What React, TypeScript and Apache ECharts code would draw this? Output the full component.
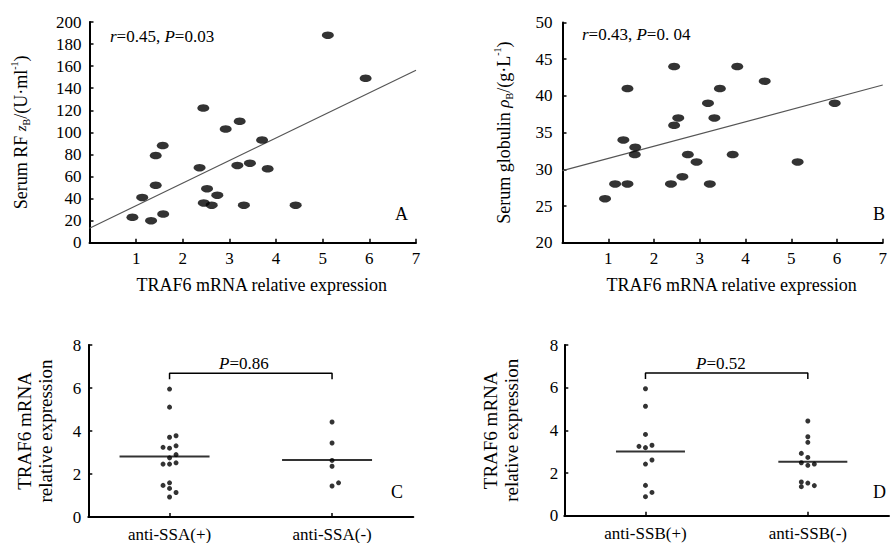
import React, { useEffect, useRef } from "react";
import * as echarts from "echarts";

const FONT = '"Liberation Serif", "Times New Roman", serif';

// ---- Panel A / B data (TRAF6 mRNA relative expression vs serum values) ----
const traf6A = [0.92, 1.32, 1.58, 1.13, 1.42, 1.42, 1.57, 2.44, 2.36, 2.52, 2.45, 2.62, 2.74, 2.92, 3.22, 3.17, 3.44, 3.31, 3.7, 3.82, 4.42, 5.11, 5.92];
const serumRF = [23, 20, 26, 41, 52, 79, 88, 122, 68, 49, 36, 34, 43, 103, 110, 70, 72, 34, 93, 67, 34, 188, 149];
const traf6B = [0.93, 1.15, 1.42, 1.33, 1.42, 1.59, 1.58, 2.37, 2.44, 2.44, 2.53, 2.62, 2.74, 2.93, 3.18, 3.22, 3.32, 3.44, 3.72, 3.82, 4.42, 5.14, 5.95];
const globulin = [26, 28, 28, 34, 41, 33, 32, 28, 44, 36, 37, 29, 32, 31, 39, 28, 37, 41, 32, 44, 42, 31, 39];

const xTickLabels = ["", "1", "2", "3", "4", "5", "6", "7"];
const statA = "{i|r}=0.45, {i|P}=0.03";
const statB = "{i|r}=0.43, {i|P}=0. 04";

// ---- Panel C / D data ----
const ssaCats = ["anti-SSA(+)", "anti-SSA(-)"];
const ssaPos = [5.95, 5.11, 3.71, 3.78, 3.24, 3.2, 3.31, 2.75, 2.9, 2.46, 2.46, 2.52, 1.47, 1.59, 1.33, 1.14, 0.93];
const ssaNeg = [4.42, 3.44, 2.63, 2.36, 1.44, 1.59];
const ssbCats = ["anti-SSB(+)", "anti-SSB(-)"];
const ssbPos = [5.95, 5.13, 3.81, 3.25, 3.19, 3.3, 2.42, 2.61, 1.42, 0.89, 1.09];
const ssbNeg = [4.44, 3.7, 3.44, 2.92, 2.73, 2.48, 2.36, 2.42, 1.58, 1.53, 1.36, 1.41];
const pSSA = "{i|P}=0.86";
const pSSB = "{i|P}=0.52";
const bracketLow = 6.41;
const bracketHigh = 6.69;

// layout: beeswarm column of each dot (-1 left, 0 centre, 1 right)
const ssaPosCol = [0, 0, 0, 1, -1, 0, 1, 0, 1, -1, 0, 1, -1, 0, 0, 1, 0];
const ssaNegCol = [0, 0, 0, 0, 0, 1];
const ssbPosCol = [0, 0, 0, -1, 0, 1, 0, 1, 0, 0, 1];
const ssbNegCol = [0, 0, 0, -1, 0, -1, 0, 1, -1, 0, -1, 1];
const COL_STEP = 6.5;

function fit(xs: number[], ys: number[]) {
  const n = xs.length;
  const mx = xs.reduce((a, b) => a + b, 0) / n;
  const my = ys.reduce((a, b) => a + b, 0) / n;
  let sxy = 0, sxx = 0;
  for (let i = 0; i < n; i++) {
    sxy += (xs[i] - mx) * (ys[i] - my);
    sxx += (xs[i] - mx) * (xs[i] - mx);
  }
  const slope = sxy / sxx;
  return { slope, intercept: my - slope * mx };
}
const mean = (a: number[]) => a.reduce((s, v) => s + v, 0) / a.length;

const txt = { fontFamily: FONT, color: "#000", fontWeight: "normal" as const };
const richAxis = {
  i: { fontFamily: FONT, fontStyle: "italic", fontSize: 17, color: "#000" },
  isub: { fontFamily: FONT, fontStyle: "italic", fontSize: 15, color: "#000" },
  sub: { fontFamily: FONT, fontSize: 10, verticalAlign: "bottom", color: "#000", lineHeight: 22 },
  sup: { fontFamily: FONT, fontSize: 10, verticalAlign: "top", color: "#000", lineHeight: 22 },
};
const richGraphic = {
  i: { fontFamily: FONT, fontStyle: "italic", fontWeight: "normal", fontSize: 17, fill: "#000" },
};
const gText = (left: number, top: number, text: string, size: number) => ({
  type: "text",
  left,
  top,
  style: {
    text,
    fontFamily: FONT,
    fontSize: size,
    fontWeight: "normal",
    fill: "#000",
    rich: richGraphic,
  },
});

function valueAxis(gridIndex: number, min: number, max: number, interval: number, extra: any = {}) {
  return {
    type: "value",
    gridIndex,
    min,
    max,
    interval,
    splitLine: { show: false },
    axisLine: { show: true, onZero: false, lineStyle: { color: "#000", width: 2 } },
    axisTick: { show: true, inside: true, length: 4, lineStyle: { color: "#000", width: 1.5 } },
    axisLabel: { ...txt, fontSize: 17, margin: 9 },
    ...extra,
  };
}

function buildOption() {
  const fa = fit(traf6A, serumRF);
  const fb = fit(traf6B, globulin);
  const xName = "TRAF6 mRNA relative expression";
  const xAxisCommon = (gi: number) =>
    valueAxis(gi, 0, 7, 1, {
      axisLabel: { ...txt, fontSize: 17, margin: 7, formatter: (v: number) => xTickLabels[v] ?? "" },
      name: xName,
      nameLocation: "middle",
      nameGap: 33,
      nameTextStyle: { ...txt, fontSize: 18, padding: [0, 0, 0, 18] },
    });
  const catAxis = (gi: number, cats: string[]) => ({
    type: "category",
    gridIndex: gi,
    data: cats,
    boundaryGap: true,
    axisLine: { show: true, lineStyle: { color: "#000", width: 2 } },
    axisTick: { show: true, inside: true, alignWithLabel: true, length: 4, lineStyle: { color: "#000", width: 1.5 } },
    axisLabel: { ...txt, fontSize: 17, margin: 9 },
    splitLine: { show: false },
  });
  const dots = (gi: number, groups: number[][], cols: number[][]) => ({
    type: "scatter",
    xAxisIndex: gi,
    yAxisIndex: gi,
    symbol: "circle",
    symbolSize: 5,
    itemStyle: { color: "#000" },
    data: groups.flatMap((g, ci) =>
      g.map((v, k) => ({ value: [ci, v], symbolOffset: [cols[ci][k] * COL_STEP, 0] }))
    ),
  });
  const meanBars = (gi: number, groups: number[][], w: number, off: number) => ({
    type: "scatter",
    xAxisIndex: gi,
    yAxisIndex: gi,
    symbol: "rect",
    symbolSize: [w, 2],
    symbolOffset: [off, 0],
    itemStyle: { color: "#000" },
    data: groups.map((g, ci) => [ci, mean(g)]),
    z: 1,
  });
  const bracket = (gi: number) => ({
    type: "line",
    xAxisIndex: gi,
    yAxisIndex: gi,
    symbol: "none",
    lineStyle: { color: "#000", width: 1.5 },
    data: [
      [0, bracketLow],
      [0, bracketHigh],
      [1, bracketHigh],
      [1, bracketLow],
    ],
  });
  const yNameC = {
    name: "TRAF6 mRNA\nrelative expression",
    nameLocation: "middle",
    nameTextStyle: { ...txt, fontSize: 19, lineHeight: 21 },
  };

  return {
    animation: false,
    backgroundColor: "#fff",
    textStyle: { fontFamily: FONT },
    grid: [
      { left: 89.5, top: 22, width: 326.5, height: 220.7 },
      { left: 562.5, top: 22.5, width: 326, height: 220.2 },
      { left: 88.3, top: 345, width: 325, height: 172.7 },
      { left: 564.3, top: 345, width: 324.7, height: 170.7 },
    ],
    xAxis: [xAxisCommon(0), xAxisCommon(1), catAxis(2, ssaCats), catAxis(3, ssbCats)],
    yAxis: [
      valueAxis(0, 0, 200, 20, {
        name: "Serum RF {isub|z}{sub|B}/(U·ml{sup|-1})",
        nameLocation: "middle",
        nameGap: 58,
        nameTextStyle: { ...txt, fontSize: 18, rich: richAxis },
        axisLabel: { ...txt, fontSize: 17, margin: 8 },
      }),
      valueAxis(1, 20, 50, 5, {
        name: "Serum globulin {i|ρ}{sub|B}/(g·L{sup|-1})",
        nameLocation: "middle",
        nameGap: 48,
        nameTextStyle: { ...txt, fontSize: 18, rich: richAxis },
        axisLabel: { ...txt, fontSize: 17, margin: 10 },
      }),
      valueAxis(2, 0, 8, 2, { ...yNameC, nameGap: 32, axisLabel: { ...txt, fontSize: 17, margin: 7 } }),
      valueAxis(3, 0, 8, 2, { ...yNameC, nameGap: 42, axisLabel: { ...txt, fontSize: 17, margin: 6 } }),
    ],
    series: [
      {
        type: "scatter",
        xAxisIndex: 0,
        yAxisIndex: 0,
        symbol: "circle",
        symbolSize: [12, 7.5],
        itemStyle: { color: "#000" },
        data: traf6A.map((x, i) => [x, serumRF[i]]),
        z: 3,
      },
      {
        type: "line",
        xAxisIndex: 0,
        yAxisIndex: 0,
        symbol: "none",
        lineStyle: { color: "#555", width: 1.2 },
        data: [
          [0, fa.intercept],
          [7, fa.intercept + 7 * fa.slope],
        ],
      },
      {
        type: "scatter",
        xAxisIndex: 1,
        yAxisIndex: 1,
        symbol: "circle",
        symbolSize: [12, 7.5],
        itemStyle: { color: "#000" },
        data: traf6B.map((x, i) => [x, globulin[i]]),
        z: 3,
      },
      {
        type: "line",
        xAxisIndex: 1,
        yAxisIndex: 1,
        symbol: "none",
        lineStyle: { color: "#555", width: 1.2 },
        data: [
          [0, fb.intercept],
          [7, fb.intercept + 7 * fb.slope],
        ],
      },
      dots(2, [ssaPos, ssaNeg], [ssaPosCol, ssaNegCol]),
      meanBars(2, [ssaPos, ssaNeg], 90, -5),
      bracket(2),
      dots(3, [ssbPos, ssbNeg], [ssbPosCol, ssbNegCol]),
      meanBars(3, [ssbPos, ssbNeg], 69, 5),
      bracket(3),
    ],
    graphic: [
      gText(110, 28, statA, 17),
      gText(582, 26, statB, 17),
      gText(395, 205, "A", 18),
      gText(873, 205, "B", 18),
      gText(391, 483, "C", 18),
      gText(873, 483, "D", 18),
      gText(219, 355, pSSA, 17),
      gText(696, 355, pSSB, 17),
    ],
  };
}

export default function App() {
  const ref = useRef<HTMLDivElement>(null);
  useEffect(() => {
    const chart = echarts.init(ref.current!, null, { renderer: "svg" });
    chart.setOption(buildOption() as any);
    return () => chart.dispose();
  }, []);
  return (
    <div
      ref={ref}
      style={{ position: "fixed", left: 0, top: 0, width: 890, height: 543, background: "#fff" }}
    />
  );
}
